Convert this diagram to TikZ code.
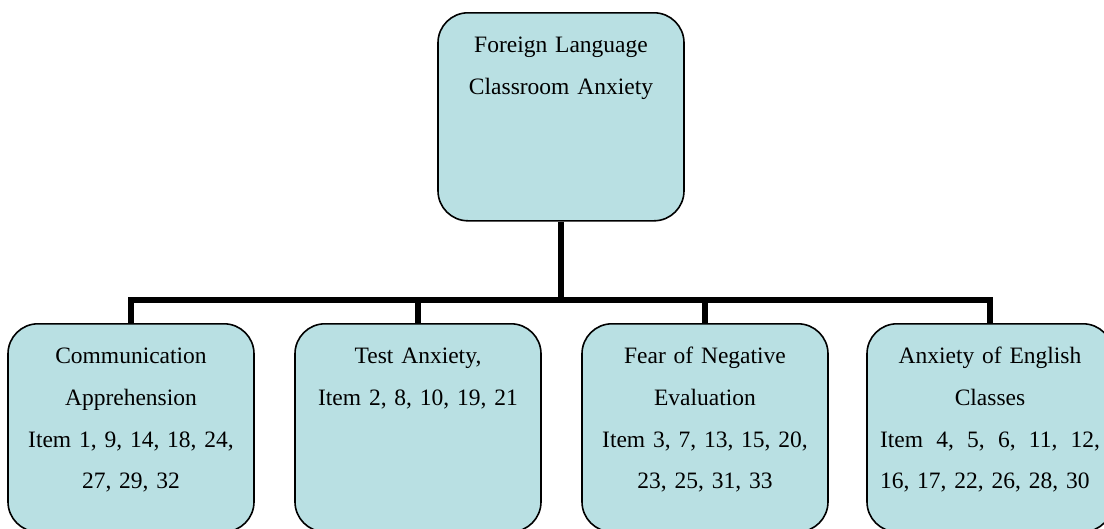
\documentclass[tikz,border=0pt]{standalone}
\usepackage{fontspec}
\setmainfont{Liberation Serif}
\definecolor{boxblue}{RGB}{185,224,227}
\begin{document}
\begin{tikzpicture}
        [x=1pt, y=-1pt,
         box_style/.style={draw=black, line width=1.6pt, fill=boxblue,
                           rounded corners=30pt, anchor=north,
                           minimum width=246pt, inner xsep=8pt, inner ysep=0pt,
                           text width=230pt, align=center,
                           text height=40pt, text depth=168pt,
                           font=\fontsize{23.5}{41.7}\selectfont},
         edge_style/.style={draw=black, line width=6pt, line join=miter}]
            \useasboundingbox (0,0) rectangle (1104,528);
            \node[box_style] (fla) at (561, 12) {Foreign Language\\Classroom Anxiety};
            \node[box_style] (com) at (131, 323) {Communication\\Apprehension\\Item 1, 9, 14, 18, 24,\\27, 29, 32};
            \node[box_style] (tst) at (418, 323) {Test Anxiety,\\Item 2, 8, 10, 19, 21};
            \node[box_style] (fne) at (705, 323) {Fear of Negative\\Evaluation\\Item 3, 7, 13, 15, 20,\\23, 25, 31, 33};
            \node[box_style, text width=220pt, inner xsep=13pt] (aec) at (990, 323)
                {Anxiety of English\\Classes\\
                 \makebox[220pt][l]{Item\hspace{\fill}4,\hspace{\fill}5,\hspace{\fill}6,\hspace{\fill}11,\hspace{\fill}12,}\\
                 \makebox[220pt][l]{16, 17, 22, 26, 28, 30}};
            \coordinate (hub) at (561, 300);
            \draw[edge_style]  (fla.south) -- (hub);
            \draw[edge_style]  (hub) -| (com.north);
            \draw[edge_style]  (hub) -| (tst.north);
            \draw[edge_style]  (hub) -| (fne.north);
            \draw[edge_style]  (hub) -| (aec.north);
        \end{tikzpicture}
\end{document}
